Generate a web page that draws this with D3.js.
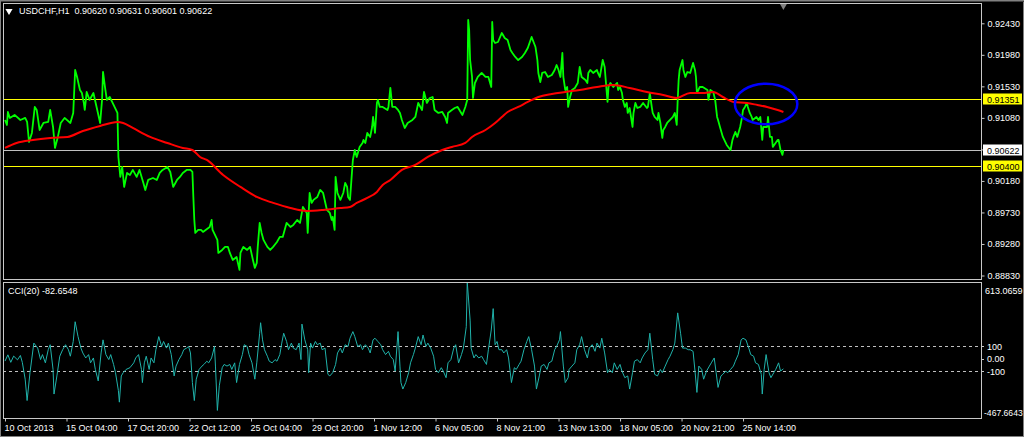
<!DOCTYPE html>
<html><head><meta charset="utf-8">
<script src="https://cdn.jsdelivr.net/npm/d3@7/dist/d3.min.js"></script>
<style>
body{margin:0;background:#000;overflow:hidden;}
svg{display:block;}
text{font-family:"Liberation Sans",Arial,sans-serif;font-size:9px;}
</style></head>
<body><svg id="chart" width="1024" height="437"></svg>
<script>
const titleText = "USDCHF,H1  0.90620 0.90631 0.90601 0.90622";
const cciTitle = "CCI(20) -82.6548";

// [bar index (H1), close]
const priceSeries = [
[0,.91050],[2,.90979],[3,.91164],[5,.91079],[10,.91122],[16,.91050],[21,.91079],[23,.91022],[25,.90736],[28,.90865],
[31,.91236],[33,.91193],[36,.90907],[40,.91007],[45,.91022],[47,.91193],[50,.90950],[52,.90651],[55,.90808],[58,.91007],
[62,.91079],[68,.91007],[71,.91150],[73,.91764],[75,.91664],[78,.91478],[80,.91435],[82,.91293],[83,.91193],[85,.91450],
[88,.91336],[92,.91435],[96,.91193],[99,.91007],[101,.91336],[102,.91735],[104,.91521],[106,.91336],[109,.91378],[112,.91293],
[114,.91236],[117,.91150],[118,.90522],[120,.90237],[122,.90379],[124,.90094],[127,.90294],[130,.90265],[133,.90337],[137,.90237],
[140,.90337],[144,.90151],[146,.90051],[149,.90194],[154,.90222],[158,.90194],[161,.90294],[164,.90337],[169,.90379],[172,.90308],
[175,.90094],[179,.90194],[182,.90237],[185,.90294],[189,.90337],[193,.90337],[195,.90308],[196,.89951],[197,.89623],[198,.89438],
[201,.89480],[204,.89480],[206,.89452],[213,.89523],[215,.89623],[216,.89480],[221,.89338],[222,.89152],[226,.89195],[229,.89238],
[232,.89238],[234,.89152],[237,.89052],[241,.89095],[244,.88910],[245,.89152],[248,.89238],[252,.89195],[255,.89238],[258,.89052],
[260,.88938],[262,.89010],[263,.89238],[265,.89580],[267,.89438],[269,.89338],[273,.89238],[276,.89195],[279,.89238],[283,.89309],
[286,.89381],[289,.89381],[293,.89580],[297,.89523],[300,.89552],[304,.89623],[307,.89580],[310,.89809],[314,.89723],[315,.89438],
[317,.90008],[319,.89866],[321,.89909],[325,.89951],[328,.90051],[331,.90008],[335,.89766],[338,.89723],[340,.89623],[341,.89666],
[343,.89480],[344,.90237],[346,.90008],[349,.89909],[352,.90008],[354,.90151],[356,.90094],[357,.89951],[359,.89909],[361,.90294],
[362,.90479],[364,.90622],[366,.90522],[369,.90665],[372,.90722],[373,.90765],[375,.90722],[377,.90865],[380,.90808],[382,.90950],
[383,.91093],[385,.90865],[387,.91293],[388,.91336],[390,.91236],[393,.91236],[398,.91193],[399,.91236],[401,.91507],[403,.91236],
[406,.91236],[409,.91193],[411,.91150],[413,.91050],[416,.90936],[419,.91007],[424,.91050],[427,.91093],[430,.91293],[434,.91193],
[436,.91450],[439,.91293],[442,.91364],[445,.91378],[447,.91193],[451,.91150],[455,.91164],[458,.91093],[460,.91007],[461,.91150],
[465,.91193],[468,.91221],[471,.91236],[476,.91122],[479,.91236],[481,.91336],[482,.92477],[483,.92334],[484,.91906],[486,.91664],
[487,.91364],[489,.91578],[492,.91664],[496,.91721],[500,.91664],[503,.91664],[506,.91521],[507,.92449],[508,.92192],[510,.92149],
[513,.92163],[517,.92292],[520,.92220],[523,.92192],[526,.92049],[528,.92006],[531,.91949],[534,.91906],[538,.91949],[541,.92006],
[544,.92078],[548,.92235],[552,.92092],[554,.91906],[555,.91721],[557,.91592],[559,.91721],[562,.91735],[565,.91664],[569,.91692],
[572,.91764],[574,.91835],[576,.91764],[578,.91664],[580,.92006],[581,.91664],[583,.91478],[585,.91521],[586,.91236],[588,.91378],
[590,.91478],[593,.91507],[596,.91578],[598,.91806],[600,.91664],[604,.91621],[606,.91578],[607,.91721],[609,.91764],[612,.91721],
[616,.91764],[617,.91721],[619,.91664],[622,.91906],[624,.91806],[627,.91307],[628,.91521],[630,.91578],[633,.91521],[637,.91578],
[638,.91478],[640,.91521],[642,.91435],[643,.91336],[645,.91236],[647,.91293],[648,.91150],[650,.91221],[653,.90950],[654,.91150],
[656,.91293],[658,.91221],[661,.91236],[664,.91293],[668,.91221],[669,.91236],[671,.91435],[673,.91236],[674,.91150],[676,.91093],
[679,.91050],[680,.91150],[682,.91007],[684,.90793],[685,.90907],[687,.90950],[689,.91007],[692,.91050],[695,.91093],[697,.91150],
[699,.90979],[700,.91336],[701,.91621],[702,.91764],[705,.91906],[706,.91764],[708,.91664],[710,.91735],[713,.91721],[716,.91864],
[718,.91764],[719,.91664],[720,.91435],[723,.91521],[726,.91521],[731,.91478],[732,.91336],[734,.91478],[737,.91450],[739,.91336],
[741,.91093],[742,.91050],[744,.90950],[747,.90808],[751,.90693],[755,.90622],[757,.90765],[758,.90808],[760,.90879],[762,.90808],
[765,.90950],[767,.91093],[768,.91193],[770,.91236],[772,.91293],[773,.91236],[775,.91150],[777,.91093],[778,.91050],[782,.91093],
[784,.91050],[786,.91093],[788,.90765],[789,.90950],[793,.90950],[794,.91093],[796,.90808],[798,.90808],[799,.90665],[804,.90765],
[805,.90765],[807,.90622],[809,.90551],[810,.90622]
];

// moving average (red) [bar, value]
const maSeries = [
[0,.90651],[12,.90722],[29,.90765],[47,.90793],[65,.90808],[81,.90893],[99,.90965],[117,.91022],[123,.91007],[133,.90936],
[151,.90808],[169,.90722],[185,.90651],[195,.90622],[203,.90522],[210,.90479],[227,.90265],[245,.90094],[262,.89951],[279,.89866],
[297,.89794],[314,.89752],[331,.89766],[349,.89794],[359,.89809],[366,.89866],[377,.89937],[387,.90023],[393,.90123],[401,.90194],
[413,.90337],[427,.90408],[440,.90522],[455,.90622],[465,.90665],[479,.90722],[486,.90808],[500,.90907],[510,.91007],[517,.91093],
[523,.91164],[534,.91236],[544,.91307],[555,.91378],[569,.91421],[583,.91450],[598,.91478],[616,.91521],[633,.91550],[650,.91507],
[668,.91450],[685,.91407],[699,.91364],[713,.91435],[726,.91435],[737,.91450],[747,.91378],[758,.91307],[772,.91293],[783,.91264],
[793,.91236],[804,.91193],[810,.91164]
];

// CCI(20) [bar, value]
const cciSeries = [
[0,-20],[3,30],[6,-30],[9,20],[13,-10],[16,25],[18,-30],[21,-165],[23,-336],[26,-113],[30,124],[34,84],[37,-8],[39,32],[42,-34],
[45,71],[47,111],[50,-87],[51,-284],[54,-139],[57,19],[60,71],[63,111],[66,71],[68,19],[71,137],[73,295],[76,176],[79,84],[81,45],
[84,5],[87,32],[89,-34],[92,5],[94,-87],[97,-179],[100,45],[102,150],[105,32],[108,-8],[110,32],[113,-47],[115,-113],[118,-257],[119,-349],
[121,-139],[123,-113],[126,-87],[130,-73],[134,-34],[136,5],[139,32],[142,-87],[143,-192],[145,-34],[147,19],[150,-87],[152,5],[155,-34],
[157,71],[160,176],[163,97],[165,137],[168,84],[170,124],[173,32],[176,-139],[178,-60],[181,-8],[184,32],[186,71],[189,84],[191,97],
[193,45],[195,-192],[197,-336],[199,-165],[202,-87],[205,-60],[207,-47],[210,-21],[212,-34],[215,5],[218,97],[219,-60],[221,-415],
[223,-218],[226,-73],[228,-47],[231,-60],[234,-47],[236,-87],[239,-34],[241,-192],[244,-47],[247,32],[249,111],[252,97],[254,32],
[257,-34],[260,-165],[262,-34],[265,203],[266,287],[268,150],[270,71],[273,19],[275,-21],[278,-34],[281,-8],[283,-21],[286,32],
[288,124],[290,203],[293,137],[295,71],[298,124],[300,84],[303,71],[306,124],[308,-8],[309,276],[312,150],[315,71],[316,-113],
[318,124],[320,84],[323,137],[325,111],[328,124],[330,71],[333,84],[336,-126],[338,-139],[341,-113],[344,-47],[346,45],[349,84],
[351,45],[354,111],[357,97],[359,163],[362,216],[364,176],[367,97],[370,111],[372,71],[375,111],[378,84],[380,45],[383,150],
[385,163],[388,137],[391,111],[393,71],[396,32],[399,58],[401,19],[404,-8],[406,-100],[409,216],[411,-60],[412,-192],[414,-244],
[417,-192],[420,-113],[422,-34],[425,32],[427,84],[430,176],[433,111],[435,189],[438,97],[440,124],[443,84],[446,19],[448,-87],
[451,-113],[454,-73],[456,-100],[459,-153],[461,-34],[464,-8],[467,84],[469,111],[472,-34],[475,32],[477,84],[480,255],[481,613.0659],
[484,308],[485,84],[488,5],[490,32],[493,5],[496,19],[498,-8],[501,-47],[503,71],[506,229],[508,400],[510,111],[512,137],[514,71],
[517,71],[519,45],[522,71],[524,5],[527,-192],[530,-73],[532,-87],[535,-47],[537,-21],[540,71],[543,137],[545,176],[548,71],[551,-60],
[553,-244],[556,-139],[558,-60],[561,-47],[564,-87],[566,-34],[569,-21],[572,71],[574,97],[577,150],[578,216],[581,-60],[583,-192],
[586,-153],[587,-87],[590,-60],[593,-34],[595,71],[598,111],[600,176],[603,71],[606,5],[608,84],[611,111],[614,58],[616,124],[619,84],
[621,163],[624,45],[627,-113],[629,-87],[632,-113],[634,-34],[637,-87],[640,-47],[642,-100],[645,-153],[648,-139],[650,-244],[653,-113],
[655,-21],[658,-8],[661,-34],[663,5],[666,45],[669,71],[671,203],[674,-8],[676,-126],[679,-139],[682,-87],[684,-113],[687,-60],[690,-8],
[692,19],[695,71],[697,124],[700,366],[703,203],[705,84],[708,84],[711,71],[713,71],[716,58],[718,-100],[720,-271],[722,-60],[725,-87],
[727,-165],[730,-100],[733,-60],[735,-34],[738,5],[740,-113],[742,-231],[745,-139],[747,-126],[750,-100],[752,-113],[755,-87],[758,-60],
[760,-21],[763,32],[766,150],[768,163],[771,150],[774,84],[776,32],[779,19],[781,-34],[784,-47],[787,-126],[788,-284],[790,-87],[792,32],
[795,-113],[797,-153],[800,-113],[802,-87],[805,-34],[807,-100],[810,-82.6548]
];

const priceTicks = [0.92430,0.91980,0.91530,0.91080,0.90630,0.90180,0.89730,0.89280,0.88830];
const priceLevels = [0.91351, 0.90400];
const bidPrice = 0.90622;
const cciTickValues = [613.0659, 100, 0, -100, -467.6643];
const cciTickLabels = ["613.0659","100","0.00","-100","-467.6643"];
const cciLevels = [100, -100];
const timeTickBars = [0,64,128,192,256,320,384,448,512,576,640,704,768];
const timeTickLabels = ["10 Oct 2013","15 Oct 04:00","17 Oct 20:00","22 Oct 12:00","25 Oct 04:00","29 Oct 20:00","1 Nov 12:00","6 Nov 05:00","8 Nov 21:00","13 Nov 13:00","18 Nov 05:00","20 Nov 21:00","25 Nov 14:00"];
// highlighted zone (ellipse) in data units: centre bar/price, radius in bars/price
const highlight = {bar: 792, price: 0.91278, rBars: 32.5, rPrice: 0.00290};

const svg = d3.select("#chart");
const W = 1024, H = 437;
const plotL = 3, plotR = 981;
const mainTop = 3, mainBot = 279;
const cciTop = 282, cciBot = 418;
const FONT = "Liberation Sans, Arial, sans-serif";

svg.append("rect").attr("width",W).attr("height",H).attr("fill","#000");
// window frame
svg.append("rect").attr("x",0.5).attr("y",0.5).attr("width",W-1).attr("height",H-1)
  .attr("fill","none").attr("stroke","#808080").attr("stroke-width",1);
svg.append("line").attr("x1",1).attr("x2",W).attr("y1",1.5).attr("y2",1.5).attr("stroke","#404040");

const x = d3.scaleLinear().domain([0,810]).range([5,783.4]);
const yP = d3.scaleLinear().domain([0.88830,0.92430]).range([275.5,23.3]);
const yC = d3.scaleLinear().domain([-467.6643,613.0659]).range([417,282]);

const defs = svg.append("defs");
defs.append("clipPath").attr("id","clipMain").append("rect")
  .attr("x",plotL).attr("y",mainTop).attr("width",plotR-plotL).attr("height",mainBot-mainTop);
defs.append("clipPath").attr("id","clipCci").append("rect")
  .attr("x",plotL).attr("y",cciTop).attr("width",plotR-plotL).attr("height",cciBot-cciTop);

const gMain = svg.append("g").attr("clip-path","url(#clipMain)");
gMain.selectAll("line.lvl").data(priceLevels).join("line").attr("class","lvl")
  .attr("x1",plotL).attr("x2",plotR).attr("y1",d=>Math.round(yP(d))+0.5).attr("y2",d=>Math.round(yP(d))+0.5)
  .attr("stroke","#ffff00").attr("stroke-width",1);
gMain.append("line").attr("x1",plotL).attr("x2",plotR)
  .attr("y1",Math.round(yP(bidPrice))+0.5).attr("y2",Math.round(yP(bidPrice))+0.5)
  .attr("stroke","#c0c0c0").attr("stroke-width",1);

const lineP = d3.line().x(d=>x(d[0])).y(d=>yP(d[1]));
gMain.append("path").datum(priceSeries).attr("d",lineP)
  .attr("fill","none").attr("stroke","#00ff00").attr("stroke-width",1.8).attr("stroke-linejoin","round");
gMain.append("path").datum(maSeries).attr("d",d3.line().curve(d3.curveMonotoneX).x(d=>x(d[0])).y(d=>yP(d[1])))
  .attr("fill","none").attr("stroke","#ff0000").attr("stroke-width",2);

gMain.append("ellipse")
  .attr("cx",x(highlight.bar)).attr("cy",yP(highlight.price))
  .attr("rx",x(highlight.bar+highlight.rBars)-x(highlight.bar))
  .attr("ry",yP(highlight.price-highlight.rPrice)-yP(highlight.price))
  .attr("fill","none").attr("stroke","#0000ff").attr("stroke-width",2.5);

const gC = svg.append("g").attr("clip-path","url(#clipCci)");
gC.selectAll("line.cl").data(cciLevels).join("line").attr("class","cl")
  .attr("x1",plotL).attr("x2",plotR).attr("y1",d=>Math.round(yC(d))+0.5).attr("y2",d=>Math.round(yC(d))+0.5)
  .attr("stroke","#c0c0c0").attr("stroke-dasharray","3,3").attr("stroke-width",1);
gC.append("path").datum(cciSeries).attr("d",d3.line().x(d=>x(d[0])).y(d=>yC(d[1])))
  .attr("fill","none").attr("stroke","#20b2aa").attr("stroke-width",1);

svg.append("rect").attr("x",plotL+0.5).attr("y",mainTop+0.5).attr("width",plotR-plotL).attr("height",mainBot-mainTop)
  .attr("fill","none").attr("stroke","#c8c8c8");
svg.append("rect").attr("x",plotL+0.5).attr("y",cciTop+0.5).attr("width",plotR-plotL).attr("height",cciBot-cciTop)
  .attr("fill","none").attr("stroke","#c8c8c8");

const axP = d3.axisRight(yP).tickValues(priceTicks).tickSize(3).tickPadding(3).tickFormat(d3.format(".5f"));
const gAxP = svg.append("g").attr("transform",`translate(${plotR+0.5},0)`).call(axP);
gAxP.select(".domain").remove();
gAxP.selectAll("line").attr("stroke","#c8c8c8");
gAxP.selectAll("text").attr("fill","#ffffff").style("font-size","9px").style("font-family",FONT);

function priceBox(v, bg){
  const yy = Math.round(yP(v));
  svg.append("rect").attr("x",plotR+2).attr("y",yy-5.5).attr("width",39).attr("height",11).attr("fill",bg);
  svg.append("text").attr("x",plotR+6).attr("y",yy+3.5).attr("fill","#000").text(d3.format(".5f")(v));
}
priceLevels.forEach(v=>priceBox(v,"#ffff00"));
priceBox(bidPrice,"#ffffff");

const gAxC = svg.append("g");
cciTickValues.forEach((v,i)=>{
  let yy = yC(v), xx = plotR+6;
  const last = cciTickValues.length-1;
  if(i===0){ yy = cciTop+8; xx = plotR+4; }
  if(i===last){ yy = cciBot-6; xx = plotR+3; }
  if(i>0 && i<last){
    gAxC.append("line").attr("x1",plotR).attr("x2",plotR+3).attr("y1",Math.round(yC(v))+0.5).attr("y2",Math.round(yC(v))+0.5).attr("stroke","#c8c8c8");
  }
  gAxC.append("text").attr("x",xx).attr("y",yy+3.5).attr("fill","#fff")
    .style("font-size", (i===last) ? "8.6px" : "9px").text(cciTickLabels[i]);
});

const axT = d3.axisBottom(x).tickValues(timeTickBars).tickSize(3).tickPadding(3).tickFormat((d,i)=>timeTickLabels[i]);
const gAxT = svg.append("g").attr("transform",`translate(0,${cciBot+0.5})`).call(axT);
gAxT.select(".domain").remove();
gAxT.selectAll("line").attr("stroke","#c8c8c8");
gAxT.selectAll("text").attr("fill","#fff").attr("text-anchor","start").attr("dx",-1)
  .style("font-size","9px").style("font-family",FONT);

svg.append("path").attr("d",d3.symbol(d3.symbolTriangle,22)()).attr("transform","translate(9,11) rotate(180)").attr("fill","#fff");
svg.append("text").attr("x",19).attr("y",14).attr("fill","#fff").style("white-space","pre").text(titleText);
svg.append("text").attr("x",8).attr("y",cciTop+12).attr("fill","#fff").text(cciTitle);
svg.append("path").attr("d",d3.symbol(d3.symbolTriangle,20)()).attr("transform",`translate(${x(810)},6) rotate(180)`).attr("fill","#808080");
</script></body></html>
